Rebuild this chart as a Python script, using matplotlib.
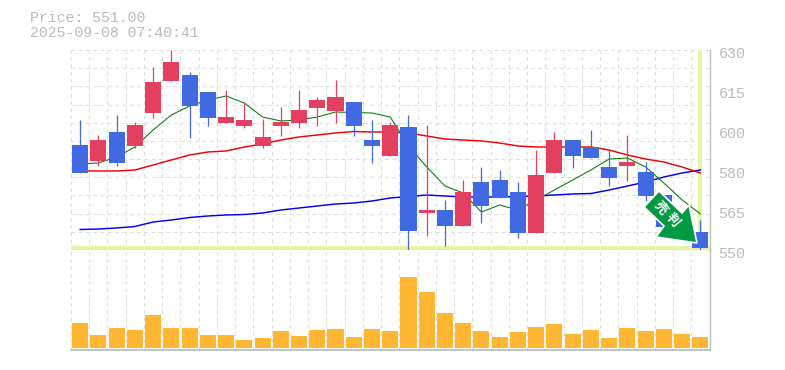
import matplotlib
matplotlib.use("Agg")
import matplotlib.pyplot as plt
from matplotlib.patches import Polygon
from matplotlib.ticker import FixedLocator, NullLocator
import numpy as np

title_lines = ["Price: 551.00", "2025-09-08 07:40:41"]
price_ticks = [630, 614, 598, 582, 566, 550]
price_labels = ["630", "615", "600", "580", "565", "550"]
date_labels = {4: "7/25", 9: "8/1", 14: "8/8", 19: "8/18", 24: "8/25", 29: "9/1", 34: "9/8"}
last_price = 551

opens = [592, 585.6, 597.2, 591.6, 604.8, 617.6, 620, 613.2, 600.8, 599.6, 591.6, 599.6,
         600.8, 606.8, 605.6, 609.2, 594, 587.6, 599.2, 564.8, 566, 559.6, 577.2, 578,
         573.2, 556.8, 580.8, 594, 591.2, 583.2, 583.6, 581.2, 572, 560, 557.2]
closes = [580.8, 594, 584.8, 600, 617.2, 625.2, 607.6, 602.8, 603.2, 602, 595.2, 601.2,
          606, 610, 611.2, 599.6, 591.6, 600, 557.6, 566, 559.6, 573.2, 567.6, 570.8,
          556.8, 580, 594, 587.6, 586.8, 578.8, 585.2, 571.6, 559.2, 555.6, 550.8]
highs = [602, 596, 604, 601.2, 623.2, 630, 621.2, 613.2, 614, 609.2, 602.4, 607.2,
         614, 611.2, 618, 609.2, 602, 601.2, 604, 600, 570, 578, 583.2, 582,
         577.2, 590, 597.2, 594, 598, 590, 596, 585.2, 572, 560, 562]
lows = [580.8, 583.6, 583.6, 590.8, 602.8, 617.6, 594.8, 599.6, 600.8, 598.8, 590.8, 595.6,
        598.8, 599.6, 600.8, 595.6, 584.8, 587.6, 549.6, 555.6, 551.6, 559.6, 560.8, 570.8,
        554.8, 556.8, 580.8, 582.8, 586.8, 575.6, 577.6, 569.6, 559.2, 554, 549.6]
ma_short = [584.4, 584.8, 587.2, 591.2, 598, 604, 607.6, 610, 611.6, 608.8, 603.2, 601.6,
            602, 603.2, 605.2, 605, 604.8, 603.2, 591.6, 583.2, 575.6, 572.8, 565.2, 568,
            566, 570, 574, 578, 582, 586.4, 586.8, 583.2, 576.8, 570, 564.4]
ma_mid = [581.6, 581.6, 581.6, 582, 584, 586, 588, 589.2, 589.6, 591.2, 592.4, 594,
          595.2, 596, 596.8, 597.4, 597.2, 597.2, 596.8, 595.6, 594.4, 594, 593.6, 592.8,
          591.6, 591.2, 591.2, 591.2, 591.2, 590, 588, 586.4, 585.2, 583.2, 580.8]
ma_long = [558.2, 558.4, 558.8, 559.4, 561.2, 562, 563, 563.6, 564, 564.2, 564.8, 566,
           566.8, 567.6, 568.4, 568.8, 569.6, 570.8, 571.4, 572, 571.6, 571.2, 571.2, 571.2,
           571.4, 571.6, 572, 572.4, 572.6, 574, 575.6, 577.2, 579.2, 580.8, 582]
volumes = [25, 13, 20, 18, 33, 20, 20, 13, 13, 8, 10, 17, 12, 18, 19, 11, 19, 17,
           71, 56, 35, 25, 17, 11, 16, 21, 24, 14, 18, 10, 20, 17, 19, 14, 11]
signal_chars = ["売", "判"]

W, H = 785, 370
UP = "#e34060"
DOWN = "#4169e1"
GRID = "#dcdcdc"
AXIS = "#bebebe"
LIME = "#e4f5a4"
TEXT = "#bababa"
MONO = "Liberation Mono"
CJK = ["Noto Sans CJK JP", "DejaVu Sans"]


def px_rect(left, top, right, bottom):
    return [left / W, 1 - bottom / H, (right - left) / W, (bottom - top) / H]


fig = plt.figure(figsize=(W / 100, H / 100), dpi=100)
ax = fig.add_axes(px_rect(71, 50, 709.5, 250))
ax_vol = fig.add_axes(px_rect(71, 250, 709.5, 350))

x = np.arange(len(closes))
for a in (ax, ax_vol):
    a.set_xlim(-0.5, len(closes) - 0.5)
    a.xaxis.set_major_locator(FixedLocator(np.arange(len(closes) + 1) - 0.5))
    a.grid(axis="x", color=GRID, lw=0.75, ls=(0, (3.5, 3.5)), zorder=0)
    a.set_axisbelow(True)
    a.tick_params(length=0, labelbottom=False, labelleft=False)
    for s in a.spines.values():
        s.set_visible(False)

ax.set_ylim(550, 630)
ax.yaxis.set_major_locator(FixedLocator(np.linspace(550, 630, 12)))
ax.grid(axis="y", color=GRID, lw=0.75, ls=(0, (3.5, 3.5)), zorder=0)

ax.axhline(last_price, color=LIME, lw=2.9, zorder=1)
ax.axvline(x[-1], color=LIME, lw=2.9, zorder=1)

ax.plot(x, ma_long, color="#0000f0", lw=1.05, zorder=2)
ax.plot(x, ma_mid, color="#f00000", lw=1.05, zorder=2)
ax.plot(x, ma_short, color="#007a00", lw=0.75, zorder=2)

for i in x:
    c = UP if closes[i] >= opens[i] else DOWN
    ax.vlines(i, lows[i], highs[i], color=c, lw=0.9, zorder=3, clip_on=False)
    ax.bar(i, abs(closes[i] - opens[i]), bottom=min(opens[i], closes[i]),
           width=0.88, color=c, lw=0, zorder=4)

ax_vol.set_ylim(-2, 98)
ax_vol.yaxis.set_major_locator(NullLocator())
ax_vol.bar(x, volumes, width=0.88, color="#ffb733", lw=0, zorder=3)

# frame lines on the right and under each panel
for a in (ax, ax_vol):
    a.spines["right"].set_visible(True)
    a.spines["right"].set_color(AXIS)
    a.spines["right"].set_linewidth(1.0)
    a.spines["bottom"].set_visible(True)
    a.spines["bottom"].set_color(AXIS)
    a.spines["bottom"].set_linewidth(0.9)
    a.spines["bottom"].set_zorder(1.5)
ax_vol.spines["bottom"].set_linewidth(1.3)

for v, lab in zip(price_ticks, price_labels):
    ax.annotate(lab, xy=(1, (v - 550) / 80), xycoords="axes fraction",
                xytext=(6.5, -3), textcoords="offset points", family=MONO,
                fontsize=10.8, color=TEXT, va="center", ha="left", annotation_clip=False)

for i, lab in date_labels.items():
    ax.annotate(lab, xy=(i, 550), xycoords="data", xytext=(-1, -8), textcoords="offset points",
                fontsize=7.2, color="#c4c4c4", ha="center", va="center",
                family="DejaVu Sans", annotation_clip=False)

fig.text(30 / W, 1 - 18.5 / H, title_lines[0], family=MONO, fontsize=10.7, color=TEXT, va="center")
fig.text(30 / W, 1 - 33 / H, title_lines[1], family=MONO, fontsize=10.7, color=TEXT, va="center")

# signal arrow
arrow_px = [(659, 191), (682, 213), (689, 205), (697, 243), (656, 237), (664, 226), (644, 207)]
arrow_fig = [(px / W, 1 - py / H) for px, py in arrow_px]
fig.add_artist(Polygon(arrow_fig, closed=True, transform=fig.transFigure, fc="#009944",
                       ec="white", lw=1.2, zorder=10))
for ch, (px, py) in zip(signal_chars, [(661, 208), (673, 220)]):
    fig.text(px / W, 1 - py / H, ch, family=CJK, fontsize=9.5, fontweight="bold", color="white",
             rotation=-50, ha="center", va="center", rotation_mode="anchor", zorder=11)

fig.savefig("out.png", dpi=100)
